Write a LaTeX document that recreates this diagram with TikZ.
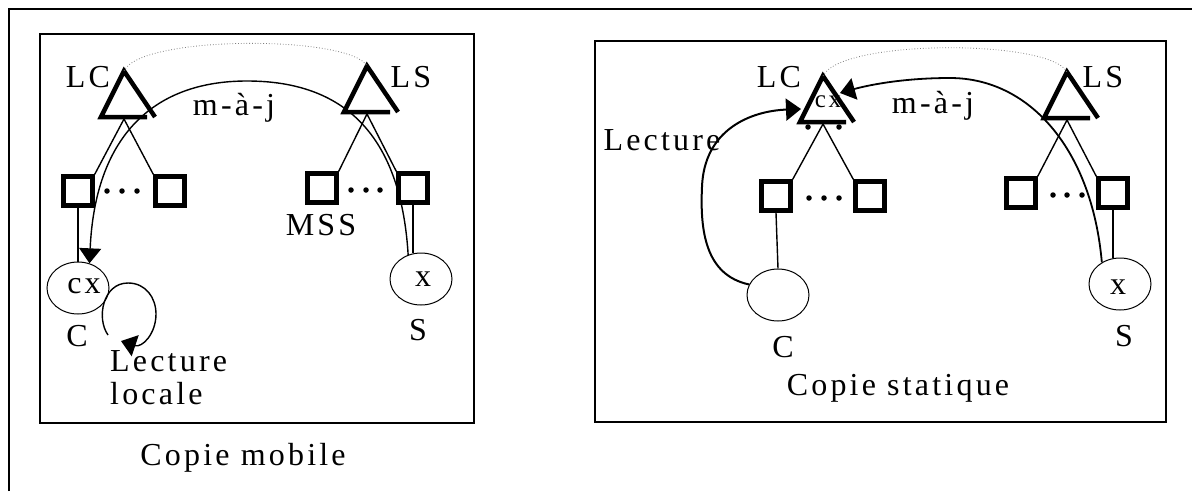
\documentclass[tikz,border=0pt]{standalone}
\usepackage{fontspec}
\setmainfont{Liberation Serif}
\newfontfamily\lblfont[LetterSpace=10]{Liberation Serif}
\usetikzlibrary{arrows.meta,shapes.geometric}
\begin{document}
\begin{tikzpicture}[x=1pt,y=-1pt,
  lbl/.style={font=\lblfont\fontsize{32}{38}\selectfont, inner sep=0pt},
  smalllbl/.style={font=\lblfont\fontsize{25}{28}\selectfont, inner sep=0pt},
  frame/.style={draw, line width=1.8pt},
  sq/.style={draw, line width=4.5pt, minimum size=29pt, inner sep=0pt},
  site/.style={draw, ellipse, line width=1pt, minimum width=62pt, minimum height=52pt, inner sep=0pt},
  tri/.style={line width=4.5pt, line join=miter},
  tie/.style={line width=1.4pt},
  upd/.style={line width=1.4pt, -{Triangle[length=15pt,width=22pt]}},
  lec/.style={line width=2pt, -{Triangle[length=15pt,width=22pt]}},
  dotline/.style={dotted, line width=0.8pt, gray},
  dot/.style={circle, fill, inner sep=0pt, minimum size=5.5pt}
]
\useasboundingbox (0,0) rectangle (1192,491);
% outer frame (cut by the page at right and bottom)
\draw[frame] (9,491) -- (9,9) -- (1192,9);
% panels
\draw[frame, line width=1.5pt] (40,34) rectangle (474,423);
\draw[frame, line width=1.5pt] (595,41) rectangle (1166,422);

% triangles (leaders)
\foreach \n/\x/\y in {LCl/124/71, LSl/367/66, LCr/823/76, LSr/1067/72}{
  \coordinate (\n) at (\x,\y);
  \draw[tri] (\n) ++(31,46) -- (\n) -- ++(-23,46) -- ++(46,0);
  \path (\n) ++(0,48) coordinate (\n b);
}

% squares (MSS)
\node[sq] (A1) at (78,191) {};
\node[sq] (A2) at (170,191) {};
\node[sq] (B1) at (322,188) {};
\node[sq] (B2) at (413,188) {};
\node[sq] (C1) at (776,196) {};
\node[sq] (C2) at (870,196) {};
\node[sq] (D1) at (1021,193) {};
\node[sq] (D2) at (1113,193) {};

% dots between squares and under the client leader
\foreach \x/\y/\k in {107/191/a1,122/191/a2,137/191/a3,351/190/b1,366/190/b2,380/190/b3,
                    809/198/c1,824/198/c2,839/198/c3,1053/195/d1,1067/195/d2,1082/195/d3,
                    808/127/e1,839/127/e3}
  \node[dot] (dt\k) at (\x,\y) {};

% tree edges
\draw[tie] (LClb) -- (A1.north east);
\draw[tie] (LClb) -- (A2.north west);
\draw[tie] (LSlb) -- (B1.north east);
\draw[tie] (LSlb) -- (B2.north west);
\draw[tie] (LCrb) -- (C1.north east);
\draw[tie] (LCrb) -- (C2.north west);
\draw[tie] (LSrb) -- (D1.north east);
\draw[tie] (LSrb) -- (D2.north west);

% hosts
\node[site] (Cl) at (78,288) {};
\node[site] (Sl) at (421,279) {};
\node[site] (Cr) at (778,295) {};
\node[site] (Sr) at (1120,284) {};
\draw[tie] (A1.south) -- (Cl.north);
\draw[tie] (B2.south) -- (B2.south |- Sl.north);
\draw[tie] (C1.south) -- (Cr.north);
\draw[tie] (D2.south) -- (D2.south |- Sr.north);

% dotted links between leaders
\draw[dotline] (LCl) .. controls (140,35) and (350,35) .. (LSl);
\draw[dotline] (LCr) .. controls (840,39) and (1050,39) .. (LSr);

% updates
\draw[upd] (Sl.118) .. controls (400,120) and (330,81) .. (247,81)
           .. controls (150,81) and (95,140) .. (Cl.65);
\coordinate (mjR) at (840,93);
\draw[upd, line width=1.8pt] (Sr.130) .. controls (1092,150) and (1030,78) .. (950,78)
           .. controls (900,78) and (865,86) .. (mjR);
% reads
\coordinate (lecR) at (801,109);
\draw[lec] (Cr.160) .. controls (705,275) and (700,230) .. (702,187)
           .. controls (704,130) and (750,111) .. (lecR);
\coordinate (loopS) at (108,335);
\coordinate (loopE) at (121,341);
\draw[upd] (loopS) .. controls (96,318) and (103,283) .. (128,283)
           .. controls (146,283) and (156,298) .. (156,314)
           .. controls (156,334) and (142,348) .. (loopE);

% labels
\node[lbl] (tLCl) at (88,77) {LC};
\node[lbl] (tLSl) at (411,77) {LS};
\node[lbl] (tMJl) at (234,108) {m-à-j};
\node[lbl] (tMSS) at (321,225) {MSS};
\node[lbl] (tcx) at (84,286) {cx};
\node[lbl] (tx) at (423,279) {x};
\node[lbl] (tCl) at (77,336) {C};
\node[lbl] (tSl) at (418,330) {S};
\node[lbl, anchor=west] (tLec) at (110,361) {Lecture};
\node[lbl, anchor=west] (tLoc) at (110,394) {locale};
\node[lbl] (tCM) at (243,458) {Copie mobile};

\node[lbl] (tLCr) at (779,77) {LC};
\node[lbl] (tLSr) at (1103,77) {LS};
\node[smalllbl] (tcxr) at (828,102) {cx};
\node[lbl] (tMJr) at (933,106) {m-à-j};
\node[lbl] (tLecr) at (662,140) {Lecture};
\node[lbl] (txr) at (1118,287) {x};
\node[lbl] (tCr) at (783,347) {C};
\node[lbl] (tSr) at (1124,336) {S};
\node[lbl] (tCS) at (898,388) {Copie statique};
\end{tikzpicture}
\end{document}
